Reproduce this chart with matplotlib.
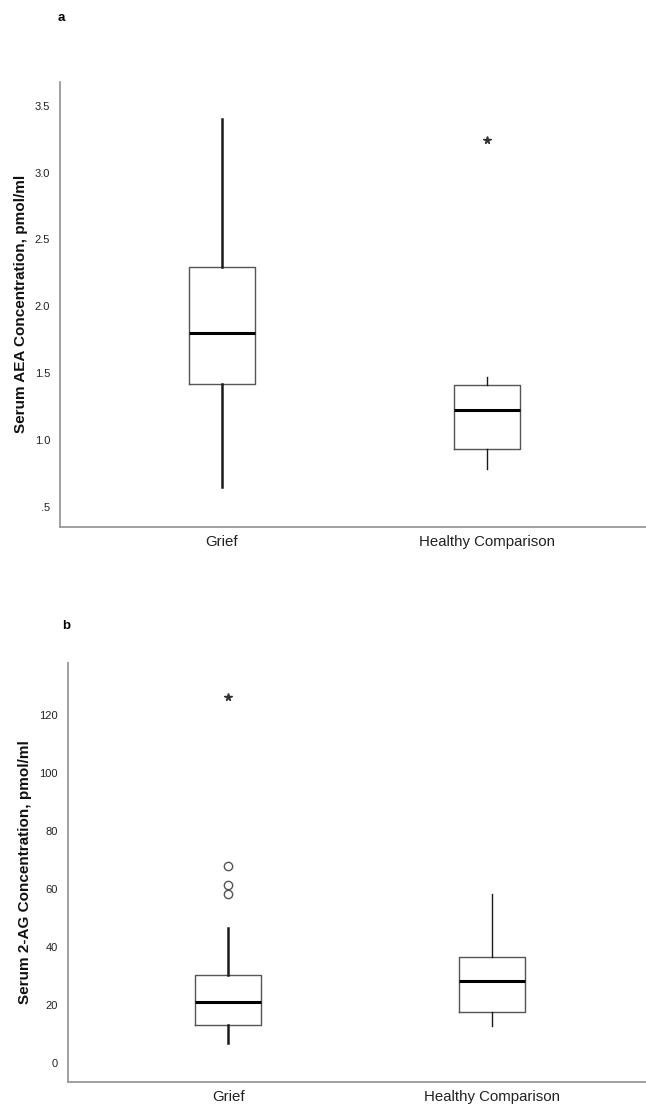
import matplotlib
matplotlib.use("Agg")
import matplotlib.pyplot as plt

# ---- data ----
groups = ["Grief", "Healthy Comparison"]

aea_whislo = [0.65, 0.78]
aea_q1 = [1.42, 0.93]
aea_med = [1.80, 1.22]
aea_q3 = [2.29, 1.41]
aea_whishi = [3.40, 1.47]
aea_circles = [[], []]
aea_stars = [[], [3.24]]
aea_ticks = [0.5, 1.0, 1.5, 2.0, 2.5, 3.0, 3.5]
aea_ticklabels = [".5", "1.0", "1.5", "2.0", "2.5", "3.0", "3.5"]

ag_whislo = [6.9, 12.7]
ag_q1 = [13.1, 17.3]
ag_med = [20.8, 28.3]
ag_q3 = [30.2, 36.5]
ag_whishi = [46.4, 58.1]
ag_circles = [[58.1, 61.3, 67.7], []]
ag_stars = [[126.0], []]
ag_ticks = [0, 20, 40, 60, 80, 100, 120]
ag_ticklabels = ["0", "20", "40", "60", "80", "100", "120"]

plt.rcParams['font.family'] = ['Liberation Sans', 'DejaVu Sans']

W, H = 646, 1106
fig = plt.figure(figsize=(W / 100, H / 100), dpi=100)


def px_axes(left, top, right, bottom):
    return fig.add_axes([left / W, 1 - bottom / H, (right - left) / W, (bottom - top) / H])


def panel(ax, wlo, q1, med, q3, whi, circles, stars, ticks, ticklabels,
          ylabel, xlim, ylim, width):
    stats = []
    for i in range(len(groups)):
        stats.append(dict(whislo=wlo[i], q1=q1[i], med=med[i], q3=q3[i],
                          whishi=whi[i], fliers=[], label=groups[i]))
    art = ax.bxp(stats, positions=[1, 2], widths=width, showcaps=False,
                 showfliers=False, patch_artist=False,
                 boxprops=dict(color="#555555", linewidth=1.0),
                 medianprops=dict(color="black", linewidth=2.2),
                 whiskerprops=dict(color="#1a1a1a", linewidth=1.0))
    # first group's whiskers are rendered heavier in the reference
    for w in art["whiskers"][:2]:
        w.set_linewidth(1.8)
    for i in range(len(groups)):
        if circles[i]:
            ax.plot([i + 1] * len(circles[i]), circles[i], linestyle="none",
                    marker="o", markersize=6, markerfacecolor="white",
                    markeredgecolor="#555555", markeredgewidth=1.0)
        if stars[i]:
            ax.plot([i + 1] * len(stars[i]), stars[i], linestyle="none",
                    marker="*", markersize=5.5, color="#333333")
    ax.set_xlim(*xlim)
    ax.set_ylim(*ylim)
    ax.set_yticks(ticks)
    ax.set_yticklabels(ticklabels)
    ax.set_xticks([1, 2])
    ax.set_xticklabels(groups)
    ax.tick_params(axis="y", length=0, pad=7, labelsize=8, labelcolor="#222222")
    ax.tick_params(axis="x", length=0, pad=6, labelsize=10.8, labelcolor="#222222")
    for s in ["top", "right"]:
        ax.spines[s].set_visible(False)
    for s in ["left", "bottom"]:
        ax.spines[s].set_color("#999999")
        ax.spines[s].set_linewidth(1.3)
    ax.set_ylabel(ylabel, fontsize=11, fontweight="bold", color="#111111", labelpad=5)


ax1 = px_axes(60, 81.7, 646, 526.7)
panel(ax1, aea_whislo, aea_q1, aea_med, aea_q3, aea_whishi, aea_circles, aea_stars,
      aea_ticks, aea_ticklabels, "Serum AEA Concentration, pmol/ml",
      (0.389, 2.60), (0.35, 3.68), 0.25)

ax2 = px_axes(67.7, 663, 646, 1081.7)
panel(ax2, ag_whislo, ag_q1, ag_med, ag_q3, ag_whishi, ag_circles, ag_stars,
      ag_ticks, ag_ticklabels, "Serum 2-AG Concentration, pmol/ml",
      (0.391, 2.584), (-6.6, 137.9), 0.25)

fig.text(58 / W, 1 - 18 / H, "a", fontsize=9.5, fontweight="bold", va="center", ha="left")
fig.text(62 / W, 1 - 626 / H, "b", fontsize=9.5, fontweight="bold", va="center", ha="left")

fig.savefig("out.png", dpi=100)
